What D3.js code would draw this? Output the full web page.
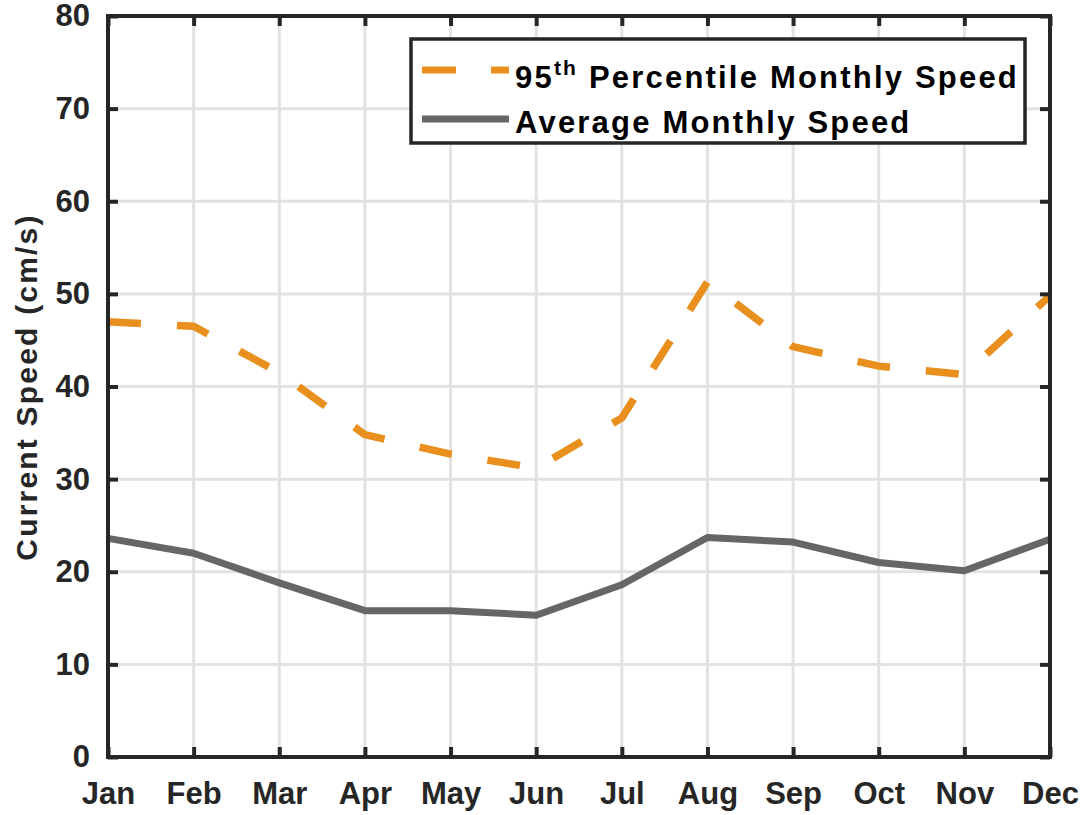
<!DOCTYPE html>
<html>
<head>
<meta charset="utf-8">
<script src="https://cdn.jsdelivr.net/npm/d3@7"></script>
<style>
  body { margin: 0; background: #fff; }
  text { font-family: "Liberation Sans", Arial, sans-serif; font-weight: bold; fill: #262626; }
</style>
</head>
<body>
<div class="chart"></div>
<script>
var months = ["Jan", "Feb", "Mar", "Apr", "May", "Jun", "Jul", "Aug", "Sep", "Oct", "Nov", "Dec"];
var p95Speed = [47.0, 46.5, 41.5, 34.8, 32.7, 31.2, 36.6, 51.3, 44.3, 42.2, 41.3, 49.8];
var avgSpeed = [23.6, 22.0, 18.8, 15.8, 15.8, 15.3, 18.6, 23.7, 23.2, 21.0, 20.1, 23.5];
var yTicks = [0, 10, 20, 30, 40, 50, 60, 70, 80];

var svgWidth = 1086;
var svgHeight = 815;
var margin = { top: 16, right: 36, bottom: 58, left: 108 };
var width = svgWidth - margin.left - margin.right;
var height = svgHeight - margin.top - margin.bottom;

var svg = d3.select(".chart")
  .append("svg")
  .attr("width", svgWidth)
  .attr("height", svgHeight)
  .style("display", "block");

svg.append("rect").attr("width", svgWidth).attr("height", svgHeight).attr("fill", "#fff");

var chart = svg.append("g")
  .attr("transform", "translate(" + margin.left + "," + margin.top + ")");

var xScale = d3.scalePoint().domain(months).range([0, width]);
var yScale = d3.scaleLinear().domain([0, 80]).range([height, 0]);

// grid
chart.append("g").selectAll("line")
  .data(months).enter().append("line")
  .attr("x1", function(d) { return xScale(d); })
  .attr("x2", function(d) { return xScale(d); })
  .attr("y1", 0).attr("y2", height)
  .attr("stroke", "#e2e2e2").attr("stroke-width", 3);

chart.append("g").selectAll("line")
  .data(yTicks).enter().append("line")
  .attr("y1", function(d) { return yScale(d); })
  .attr("y2", function(d) { return yScale(d); })
  .attr("x1", 0).attr("x2", width)
  .attr("stroke", "#e2e2e2").attr("stroke-width", 3);

// lines
var line95 = d3.line()
  .x(function(d, i) { return xScale(months[i]); })
  .y(function(d) { return yScale(d); });

chart.append("path")
  .datum(avgSpeed)
  .attr("d", line95)
  .attr("fill", "none")
  .attr("stroke", "#666666")
  .attr("stroke-width", 7)
  .attr("stroke-linejoin", "round");

chart.append("path")
  .datum(p95Speed)
  .attr("d", line95)
  .attr("fill", "none")
  .attr("stroke", "#e98f1d")
  .attr("stroke-width", 7.5)
  .attr("stroke-dasharray", "33,36")
  .attr("stroke-linejoin", "round");

// axes (ticks point inward on all sides)
function styleAxis(g) {
  g.select(".domain").remove();
  g.selectAll(".tick line").attr("stroke", "#262626").attr("stroke-width", 4);
  g.selectAll(".tick text").style("font-size", "31px").attr("fill", "#262626");
}

chart.append("g")
  .attr("transform", "translate(0," + height + ")")
  .call(d3.axisBottom(xScale).tickSize(-10).tickPadding(25))
  .call(styleAxis);

chart.append("g")
  .call(d3.axisTop(xScale).tickSize(-10).tickFormat(""))
  .call(styleAxis);

chart.append("g")
  .call(d3.axisLeft(yScale).tickValues(yTicks).tickSize(-10).tickPadding(18))
  .call(styleAxis);

chart.append("g")
  .attr("transform", "translate(" + width + ",0)")
  .call(d3.axisRight(yScale).tickValues(yTicks).tickSize(-10).tickFormat(""))
  .call(styleAxis);

chart.append("rect")
  .attr("width", width).attr("height", height)
  .attr("fill", "none").attr("stroke", "#262626").attr("stroke-width", 4);

// y label
svg.append("text")
  .attr("transform", "translate(37," + 387 + ") rotate(-90)")
  .attr("text-anchor", "middle")
  .style("font-size", "30px")
  .style("letter-spacing", "2.2px")
  .text("Current Speed (cm/s)");

// legend
var legend = svg.append("g").attr("transform", "translate(411,39)");
legend.append("rect")
  .attr("width", 614).attr("height", 104)
  .attr("fill", "#fff").attr("stroke", "#262626").attr("stroke-width", 3.5);

legend.append("line")
  .attr("x1", 11).attr("x2", 98).attr("y1", 31).attr("y2", 31)
  .attr("stroke", "#e98f1d").attr("stroke-width", 7)
  .attr("stroke-dasharray", "34,35");
legend.append("line")
  .attr("x1", 11).attr("x2", 98).attr("y1", 80).attr("y2", 80)
  .attr("stroke", "#666666").attr("stroke-width", 7);

var t1 = legend.append("text")
  .attr("x", 104).attr("y", 49)
  .style("fill", "#000")
  .style("font-size", "31px")
  .style("letter-spacing", "2.2px");
t1.append("tspan").text("95");
t1.append("tspan").attr("dy", -13).style("font-size", "21px").text("th");
t1.append("tspan").attr("dy", 13).text(" Percentile Monthly Speed");

legend.append("text")
  .attr("x", 104).attr("y", 94)
  .style("fill", "#000")
  .style("font-size", "31px")
  .style("letter-spacing", "2.2px")
  .text("Average Monthly Speed");
</script>
</body>
</html>
